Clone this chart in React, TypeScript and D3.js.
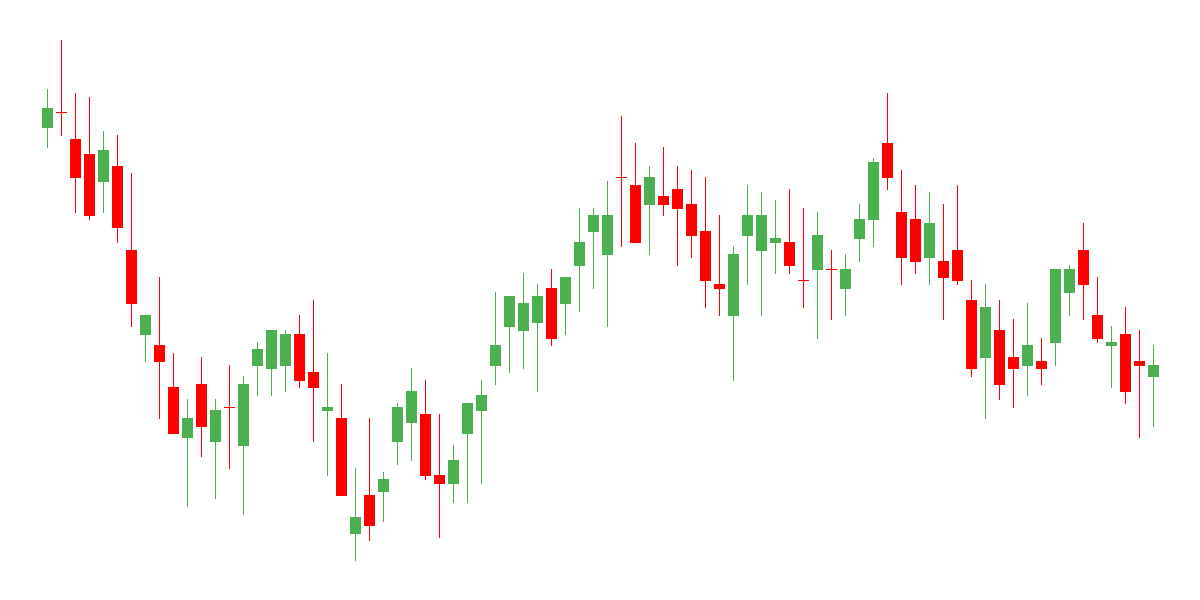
import React from "react";
import * as d3 from "d3";

// OHLC series (price units), one entry per session
const sessions = d3.range(1, 81).map((d) => `D${d}`);
const opens = [
  472, 488, 461, 446, 418, 434, 350, 265, 255, 213, 162, 216, 158, 193, 154, 234, 231, 234, 266, 228,
  189, 182, 66, 105, 108, 158, 177, 186, 125, 116, 166, 189, 234, 273, 269, 277, 312, 296, 334, 368,
  345, 423, 415, 395, 404, 411, 396, 369, 316, 284, 364, 349, 357, 358, 320, 330, 331, 311, 361, 380,
  457, 388, 381, 342, 339, 350, 300, 242, 270, 243, 234, 239, 257, 307, 350, 285, 254, 266, 239, 223,
];
const highs = [
  511, 560, 507, 503, 469, 465, 427, 285, 323, 247, 201, 243, 201, 235, 224, 258, 270, 270, 285, 300,
  247, 216, 132, 182, 128, 197, 232, 220, 186, 155, 197, 220, 308, 304, 327, 316, 331, 323, 392, 392,
  419, 484, 457, 434, 453, 434, 430, 423, 385, 354, 415, 408, 400, 411, 392, 388, 350, 346, 396, 442,
  507, 430, 415, 408, 396, 415, 320, 316, 300, 281, 297, 262, 331, 335, 377, 323, 274, 293, 270, 255,
];
const lows = [
  452, 464, 387, 380, 387, 357, 273, 238, 181, 166, 93, 143, 101, 131, 85, 204, 204, 208, 212, 158,
  124, 104, 39, 59, 78, 135, 139, 120, 62, 97, 97, 116, 215, 227, 231, 208, 254, 265, 288, 311,
  273, 353, 357, 345, 384, 334, 342, 292, 284, 219, 315, 284, 326, 326, 292, 261, 280, 284, 338, 353,
  410, 315, 326, 315, 280, 315, 223, 181, 200, 192, 204, 215, 234, 284, 280, 257, 212, 196, 162, 173,
];
const closes = [
  492, 488, 422, 384, 450, 372, 296, 285, 238, 166, 182, 173, 190, 193, 216, 251, 270, 266, 219, 212,
  193, 104, 83, 74, 121, 193, 209, 124, 116, 140, 197, 205, 255, 304, 297, 304, 261, 323, 358, 385,
  385, 423, 357, 423, 395, 391, 364, 319, 311, 346, 385, 385, 362, 334, 320, 365, 331, 331, 381, 438,
  422, 342, 338, 377, 322, 319, 231, 293, 215, 231, 255, 231, 331, 331, 315, 261, 258, 208, 234, 235,
];

const W = 1200;
const H = 600;
const UP = "#4caf50";
const DOWN = "#ff0000";

export default function App() {
  const x = d3
    .scaleBand<string>()
    .domain(sessions)
    .range([40.5, 1160.5])
    .paddingInner(3 / 14)
    .paddingOuter(3 / 28);
  const y = d3.scaleLinear().domain([0, 600]).range([H, 0]);
  const bw = x.bandwidth();

  return (
    <svg
      width={W}
      height={H}
      style={{ position: "absolute", left: 0, top: 0, background: "#fff" }}
      shapeRendering="crispEdges"
    >
      <rect x={0} y={0} width={W} height={H} fill="#fff" />
      {sessions.map((s, i) => {
        const o = opens[i];
        const c = closes[i];
        const color = c > o ? UP : DOWN;
        const x0 = x(s) as number;
        const cx = x0 + bw / 2;
        const top = y(Math.max(o, c));
        const h = Math.max(1, Math.abs(y(o) - y(c)));
        return (
          <g key={s}>
            <line x1={cx} x2={cx} y1={y(highs[i])} y2={y(lows[i])} stroke={color} strokeWidth={1} />
            <rect x={x0} y={top} width={bw} height={h} fill={color} />
          </g>
        );
      })}
    </svg>
  );
}
